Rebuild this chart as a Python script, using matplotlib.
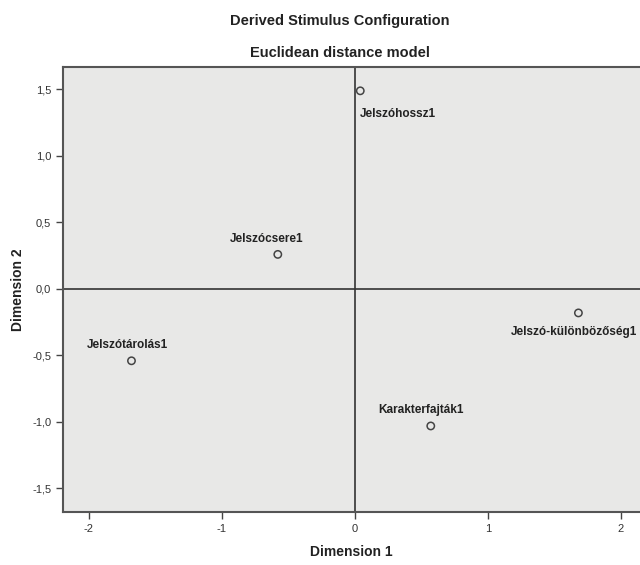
import matplotlib
matplotlib.use('Agg')
import matplotlib.pyplot as plt
from matplotlib.ticker import FuncFormatter

plt.rcParams['font.family'] = ['Liberation Sans', 'DejaVu Sans']

# Stimulus coordinates
labels = ['Jelszóhossz1', 'Jelszócsere1', 'Jelszótárolás1',
          'Jelszó-különbözőség1', 'Karakterfajták1']
dim1 = [0.04, -0.58, -1.68, 1.68, 0.57]
dim2 = [1.49, 0.26, -0.54, -0.18, -1.03]
# label placement (offset in points, horizontal alignment)
offsets = [((0, -17), 'left'), ((-8, 11), 'center'), ((-3, 11.5), 'center'),
           ((-3, -14), 'center'), ((-7, 11.5), 'center')]

xticks = [-2, -1, 0, 1, 2]
yticks = [-1.5, -1.0, -0.5, 0.0, 0.5, 1.0, 1.5]

fig = plt.figure(figsize=(6.4, 5.65), dpi=100)
ax = fig.add_axes([0.0984, 0.0938, 0.9016, 0.7876])
ax.set_facecolor('#e8e8e7')

ax.axhline(0, color='#333333', lw=1.2, zorder=1)
ax.axvline(0, color='#333333', lw=1.2, zorder=1)

ax.scatter(dim1, dim2, s=28, facecolors='none', edgecolors='#444444',
           linewidths=1.1, zorder=3)
for x, y, name, (off, ha) in zip(dim1, dim2, labels, offsets):
    ax.annotate(name, (x, y), xytext=off, textcoords='offset points',
                ha=ha, va='center', fontsize=8.5, fontweight='bold',
                color='#222222')

ax.set_xlim(-2.195, 2.143)
ax.set_ylim(-1.677, 1.669)
ax.set_xticks(xticks)
ax.set_yticks(yticks)
ax.xaxis.set_major_formatter(FuncFormatter(lambda v, p: f'{v:g}'))
ax.yaxis.set_major_formatter(FuncFormatter(lambda v, p: f'{v:.1f}'.replace('.', ',')))
ax.tick_params(direction='out', length=5, width=1, colors='#444444',
               labelsize=8, labelcolor='#333333')

for side in ['left', 'bottom', 'top']:
    ax.spines[side].set_color('#555555')
    ax.spines[side].set_linewidth(1.5)
ax.spines['right'].set_visible(False)

ax.set_xlabel('Dimension 1', fontsize=10, fontweight='bold', color='#222222', labelpad=8)
ax.set_ylabel('Dimension 2', fontsize=10, fontweight='bold', color='#222222', labelpad=5)

fig.text(0.531, 0.963, 'Derived Stimulus Configuration', ha='center', va='center',
         fontsize=10.5, fontweight='bold', color='#222222')
fig.text(0.531, 0.907, 'Euclidean distance model', ha='center', va='center',
         fontsize=10.5, fontweight='bold', color='#222222')

fig.savefig('out.png', dpi=100)
